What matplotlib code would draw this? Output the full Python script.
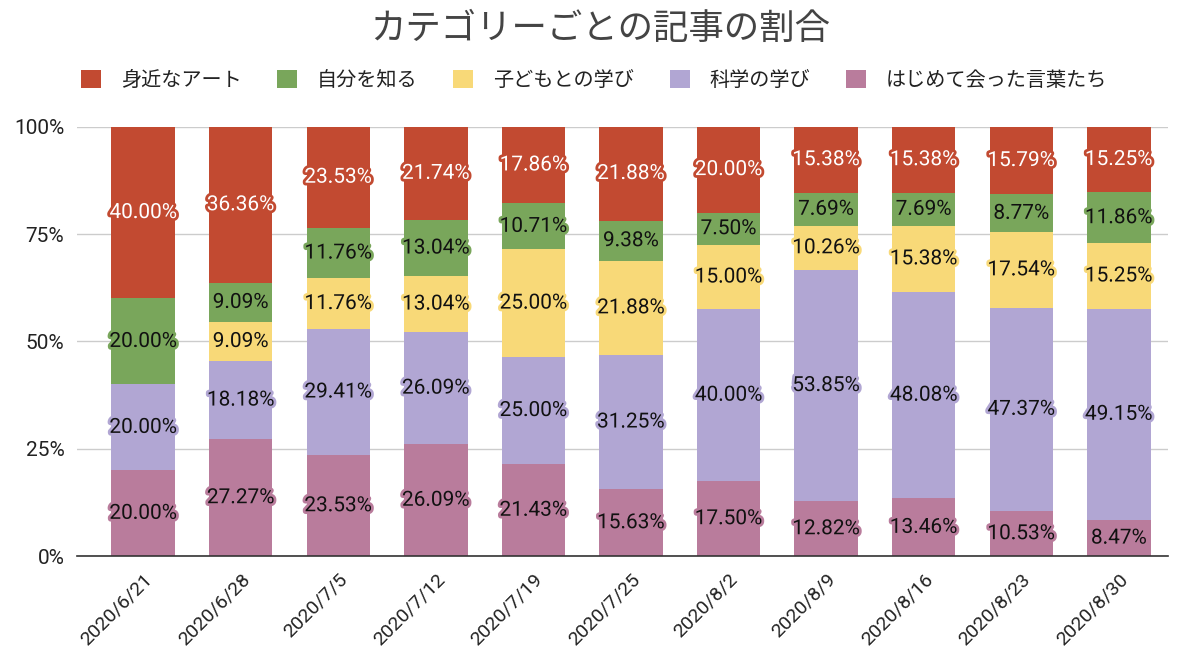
import numpy as np
import matplotlib.pyplot as plt
import matplotlib.patheffects as pe
from matplotlib.ticker import FuncFormatter

plt.rcParams['font.family'] = ['Roboto', 'Noto Sans CJK JP', 'DejaVu Sans']

dates = ['2020/6/21', '2020/6/28', '2020/7/5', '2020/7/12', '2020/7/19', '2020/7/25',
         '2020/8/2', '2020/8/9', '2020/8/16', '2020/8/23', '2020/8/30']

# bottom to top
categories = ['はじめて会った言葉たち', '科学の学び', '子どもとの学び', '自分を知る', '身近なアート']
kotoba = [20.00, 27.27, 23.53, 26.09, 21.43, 15.63, 17.50, 12.82, 13.46, 10.53, 8.47]
kagaku = [20.00, 18.18, 29.41, 26.09, 25.00, 31.25, 40.00, 53.85, 48.08, 47.37, 49.15]
kodomo = [0.00, 9.09, 11.76, 13.04, 25.00, 21.88, 15.00, 10.26, 15.38, 17.54, 15.25]
jibun = [20.00, 9.09, 11.76, 13.04, 10.71, 9.38, 7.50, 7.69, 7.69, 8.77, 11.86]
art = [40.00, 36.36, 23.53, 21.74, 17.86, 21.88, 20.00, 15.38, 15.38, 15.79, 15.25]

series = [kotoba, kagaku, kodomo, jibun, art]
colors = ['#b97c9c', '#b1a6d3', '#f8d978', '#79a65b', '#c24a31']
text_colors = ['#111111', '#111111', '#111111', '#111111', 'white']

fig = plt.figure(figsize=(12, 6.56), dpi=100)
ax = fig.add_axes([0.064, 0.152, 0.909, 0.655])

x = np.arange(len(dates))
bottom = np.zeros(len(dates))
bars = []
for vals, col, tcol in zip(series, colors, text_colors):
    vals = np.array(vals)
    b = ax.bar(x, vals, 0.65, bottom=bottom, color=col, zorder=2)
    bars.append(b)
    for xi, v, bt in zip(x, vals, bottom):
        if v > 0:
            ax.text(xi, bt + v / 2, '%.2f%%' % v, ha='center', va='center',
                    fontsize=15, color=tcol, zorder=3,
                    path_effects=[pe.withStroke(linewidth=4, foreground=col)])
    bottom += vals

ax.set_xlim(-0.68, len(dates) - 0.5)
ax.set_ylim(0, 100)
ax.set_yticks([0, 25, 50, 75, 100])
ax.yaxis.set_major_formatter(FuncFormatter(lambda v, p: '%d%%' % v))
ax.set_xticks(x)
ax.set_xticklabels(dates, rotation=45, ha='right', rotation_mode='anchor')
ax.tick_params(axis='both', length=0, labelsize=14, colors='#222222')
ax.tick_params(axis='y', pad=9, labelsize=15)
ax.tick_params(axis='x', pad=10)
ax.grid(axis='y', color='#cccccc', linewidth=1, zorder=0)
for s in ['top', 'right', 'left']:
    ax.spines[s].set_visible(False)
ax.spines['bottom'].set_color('#333333')
ax.spines['bottom'].set_linewidth(1.2)
ax.spines['bottom'].set_zorder(4)

fig.text(0.5, 0.955, 'カテゴリーごとの記事の割合', ha='center', va='center',
         fontsize=25.5, color='#444444')

handles = [bars[i] for i in [4, 3, 2, 1, 0]]
labels = [categories[i] for i in [4, 3, 2, 1, 0]]
fig.legend(handles, labels, loc='center', bbox_to_anchor=(0.495, 0.878), ncol=5,
           frameon=False, fontsize=14.5, handlelength=1.0, handleheight=1.0,
           columnspacing=1.75, handletextpad=1.0, labelcolor='#222222')

fig.savefig('out.png', dpi=100)
